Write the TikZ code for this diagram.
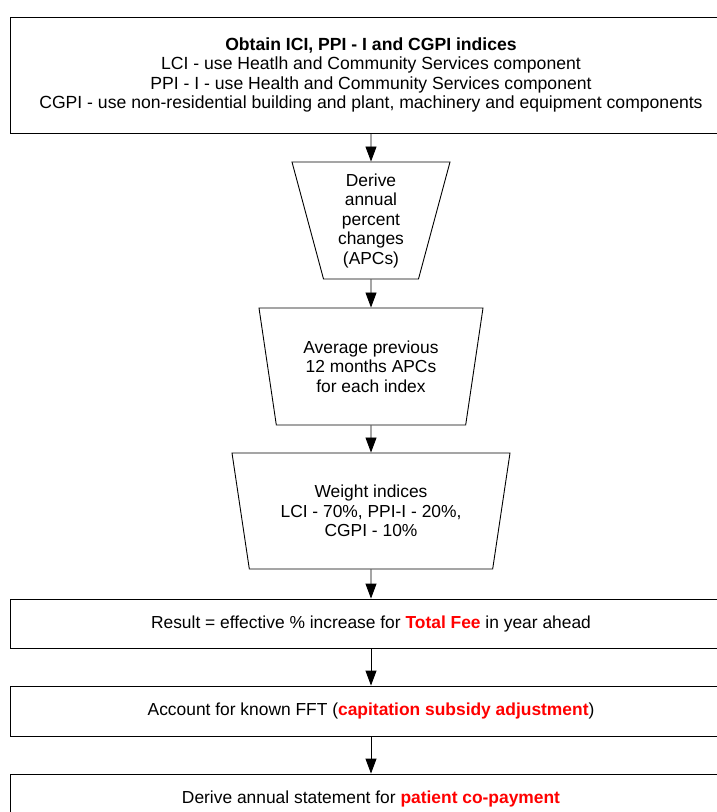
\documentclass[tikz,border=0pt]{standalone}
\usepackage{fontspec}
\setmainfont{Liberation Sans}
\usetikzlibrary{shapes.geometric,arrows.meta}
\definecolor{fred}{RGB}{255,0,0}
\tikzset{
  box/.style={draw=black, line width=0.9pt, rectangle, minimum width=722pt, inner sep=0pt, align=center,
    font=\fontsize{17.4}{19.5}\selectfont},
  trap/.style={draw=black, line width=0.9pt, trapezium, trapezium stretches body=true,
    trapezium left angle=71.5, trapezium right angle=71.5, shape border rotate=180,
    inner sep=0pt, align=center, font=\fontsize{17.4}{19.5}\selectfont},
  arr/.style={draw=black, line width=0.9pt, -{Triangle[length=15pt,width=11pt]}}
}
\begin{document}
\begin{tikzpicture}[x=1pt,y=-1pt]
\useasboundingbox (0,0) rectangle (717,812);
\clip (0,0) rectangle (717,812);
\fill[white] (0,0) rectangle (717,812);
\node[box, minimum height=116pt, font=\fontsize{17.6}{19.6}\selectfont] (obtain) at (371,75)
  {\textbf{Obtain ICI, PPI - I and CGPI indices}\\
   LCI - use Heatlh and Community Services component\\
   PPI - I - use Health and Community Services component\\
   CGPI - use non-residential building and plant, machinery and equipment components};
\node[trap, minimum width=158pt, minimum height=117pt] (derive) at (371,220.5)
  {Derive\\annual\\percent\\changes\\(APCs)};
\node[trap, minimum width=224pt, minimum height=117pt] (average) at (371,366.5)
  {Average previous\\12 months APCs\\for each index};
\node[trap, minimum width=278pt, minimum height=116pt] (weight) at (371,511)
  {Weight indices\\LCI - 70\%, PPI-I - 20\%,\\CGPI - 10\%};
\node[box, minimum height=49pt] (result) at (371,623.5)
  {Result = effective \% increase for \textcolor{fred}{\textbf{Total Fee}} in year ahead};
\node[box, minimum height=50pt] (account) at (371,711)
  {Account for known FFT (\textcolor{fred}{\textbf{capitation subsidy adjustment}})};
\node[box, minimum height=50pt] (statement) at (371,799)
  {Derive annual statement for \textcolor{fred}{\textbf{patient co-payment}}};
\draw[arr] (obtain.south) -- (derive.north);
\draw[arr] (derive.south) -- (average.north);
\draw[arr] (average.south) -- (weight.north);
\draw[arr] (weight.south) -- (result.north);
\draw[arr] (result.south) -- (account.north);
\draw[arr] (account.south) -- (statement.north);
\end{tikzpicture}
\end{document}
